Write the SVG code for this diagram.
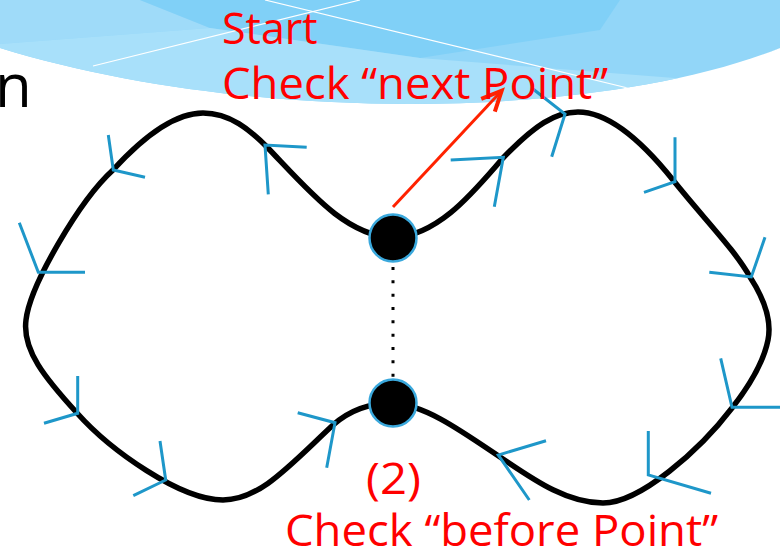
<svg xmlns="http://www.w3.org/2000/svg" width="780" height="557" viewBox="0 0 780 557">
<style>
.txt{font-family:"Open Sans","Noto Sans",sans-serif;font-size:43px;fill:#ff0000}
.chev{fill:none;stroke:#1e97c9;stroke-width:3;stroke-linejoin:miter}
.curve{fill:none;stroke:#000;stroke-width:5.5;stroke-linejoin:round}
.node{fill:#000;stroke:#3aa8dc;stroke-width:2.5}
</style>
<defs>
<clipPath id="bc"><path d="M0,0 H780 V48 C600,120 250,125 0,48 Z"/></clipPath>
<marker id="ah" markerUnits="userSpaceOnUse" markerWidth="40" markerHeight="40" viewBox="-30 -20 40 40" refX="0" refY="0" orient="auto" overflow="visible">
<path d="M-20,-9.3 L0,0 L-20,9.3" fill="none" stroke="#ff2200" stroke-width="4"/>
</marker>
</defs>
<rect width="780" height="557" fill="#fff"/>
<g id="banner" clip-path="url(#bc)">
<rect x="0" y="0" width="780" height="130" fill="#92d6f8"/>
<polygon points="0,0 140,0 210,28 0,44" fill="#9fdbf9"/>
<polygon points="140,0 620,0 600,30 420,58 210,28" fill="#80d0f7"/>
<polygon points="0,44 210,28 420,58 700,80 780,48 780,130 0,130" fill="#a8e0fa"/>
<line x1="93" y1="66" x2="360" y2="0" stroke="#fff" stroke-width="1.2"/>
<line x1="265" y1="0" x2="640" y2="91" stroke="#fff" stroke-width="1.2"/>
</g>
<text x="-5" y="107" style="font-family:'Open Sans','Noto Sans',sans-serif;font-size:60px;fill:#000">n</text>
<g id="connectors">
<path id="loop" class="curve" d="M393,238 C440,235 475,190 503,158 C535,125 555,112 578,112 C610,112 645,145 673,180 C705,220 735,250 750,277 C765,300 772,320 768,340 C764,360 750,385 732,408 C700,450 640,503 603,503 C565,503 530,477 500,457 C460,430 425,405 393,403 C370,403 350,410 333,425 C290,465 260,500 223,500 C180,500 110,450 77,413 C45,378 22,350 26,320 C30,285 80,200 113,170 C145,135 175,113 203,113 C230,113 250,130 267,147 C310,192 345,235 393,238 Z"/>
<line x1="393" y1="267" x2="393" y2="378" stroke="#000" stroke-width="3" stroke-dasharray="3 10.33"/>
<line x1="393" y1="207" x2="501.7" y2="90.7" stroke="#ff2200" stroke-width="3" marker-end="url(#ah)"/>
<g id="chevrons">
<polyline class="chev" points="108.3,135 113.3,170 145,177.3"/>
<polyline class="chev" points="306.7,147.3 265,145 268.3,194.3"/>
<polyline class="chev" points="19.3,222.7 38.3,272.3 85,272.3"/>
<polyline class="chev" points="450.7,160 503.3,157.3 494.3,206.7"/>
<polyline class="chev" points="533,89 565,114 551.7,156.7"/>
<polyline class="chev" points="675,137.3 675,181.7 644,192.3"/>
<polyline class="chev" points="765,237.3 751.3,277 709.3,272.3"/>
<polyline class="chev" points="720.7,358.3 732,407.3 782,407.3"/>
<polyline class="chev" points="648.3,431 648.3,475 711,493.3"/>
<polyline class="chev" points="546,440.7 498.3,455 529.3,500"/>
<polyline class="chev" points="297.7,412.7 335,422.7 326.7,467.7"/>
<polyline class="chev" points="160,441 165.7,480 133.3,495.7"/>
<polyline class="chev" points="77.7,376 77.7,413.3 44,423.3"/>
</g>
</g>
<g id="node-next"><circle class="node" cx="393" cy="238" r="23.5"/></g>
<g id="node-before"><circle class="node" cx="393" cy="403" r="23.5"/></g>
<g id="labels">
<text class="txt" x="222" y="44">Start</text>
<text class="txt" x="222" y="99" textLength="386" lengthAdjust="spacingAndGlyphs">Check “next Point”</text>
<text class="txt" x="366" y="494" textLength="55" lengthAdjust="spacingAndGlyphs">(2)</text>
<text class="txt" x="285" y="546" textLength="433" lengthAdjust="spacingAndGlyphs">Check “before Point”</text>
</g>
</svg>
